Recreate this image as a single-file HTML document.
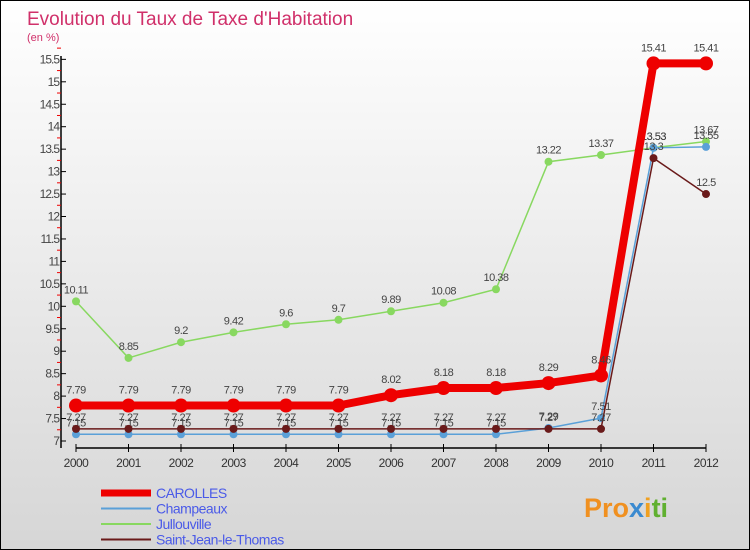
<!DOCTYPE html>
<html><head><meta charset="utf-8"><style>
body{margin:0;width:750px;height:550px;overflow:hidden;font-family:"Liberation Sans",sans-serif}
#wrap{position:relative;width:748px;height:548px;border:1px solid #000;background:linear-gradient(#fff,#d6d6d6)}
</style></head><body>
<div id="wrap">
<svg id="chart" width="748" height="548" style="position:absolute;left:0;top:0">
<text x="26" y="24" font-size="19" fill="#d0306a">Evolution du Taux de Taxe d'Habitation</text>
<text x="26" y="40" font-size="11" fill="#d0306a">(en %)</text>
<g id="axes"></g><g id="series"></g><g id="legend"></g>
<text x="583" y="516" font-size="27" font-weight="bold" fill="#f09020">Pro<tspan fill="#3a8ad0">x</tspan><tspan fill="#f0a020">i</tspan><tspan fill="#60b030">ti</tspan></text>
</svg>
</div>
<script>
const years=[2000,2001,2002,2003,2004,2005,2006,2007,2008,2009,2010,2011,2012];
const yTicks=[7,7.5,8,8.5,9,9.5,10,10.5,11,11.5,12,12.5,13,13.5,14,14.5,15,15.5];
const carolles=[7.79,7.79,7.79,7.79,7.79,7.79,8.02,8.18,8.18,8.29,8.46,15.41,15.41];
const champeaux=[7.15,7.15,7.15,7.15,7.15,7.15,7.15,7.15,7.15,7.29,7.51,13.53,13.55];
const jullouville=[10.11,8.85,9.2,9.42,9.6,9.7,9.89,10.08,10.38,13.22,13.37,13.53,13.67];
const stjean=[7.27,7.27,7.27,7.27,7.27,7.27,7.27,7.27,7.27,7.27,7.27,13.3,12.5];
const seriesNames=["CAROLLES","Champeaux","Jullouville","Saint-Jean-le-Thomas"];
const NS="http://www.w3.org/2000/svg";
const X=i=>75+i*52.5;
const Y=v=>440-(v-7)*44.9;
function mk(tag,attrs,parent,text){const e=document.createElementNS(NS,tag);for(const k in attrs)e.setAttribute(k,attrs[k]);if(text!==undefined)e.textContent=text;parent.appendChild(e);return e;}
const ax=document.getElementById('axes');
let e;
e=mk('line',{x1:60,x2:60,y1:55,y2:447,stroke:'#000','stroke-width':1.5},ax);


e=mk('line',{x1:75,x2:705,y1:447,y2:447,stroke:'#000','stroke-width':1.5},ax);


yTicks.forEach(t=>{
 mk('line',{x1:60,x2:65,y1:Y(t),y2:Y(t),stroke:'#000'},ax);
 mk('line',{x1:56,x2:60,y1:Y(t+0.25),y2:Y(t+0.25),stroke:'#e00'},ax);
 e=mk('text',{x:58,y:Y(t)+4,'font-size':12,'text-anchor':'end',fill:'#444','letter-spacing':'-1'},ax,String(t));
 
 
});
years.forEach((y,i)=>{
 mk('line',{x1:X(i),x2:X(i),y1:443,y2:451,stroke:'#000'},ax);
 e=mk('text',{x:X(i),y:466,'font-size':12,'text-anchor':'middle',fill:'#333','letter-spacing':'-0.5'},ax,String(y));
 
 
});
const sg=document.getElementById('series');
function draw(vals,color,w,r,name,dy){
 const g=mk('g',{},sg);
 
 
 e=mk('polyline',{points:vals.map((v,i)=>X(i)+','+Y(v)).join(' '),fill:'none',stroke:color,'stroke-width':w},g);
 
 
 vals.forEach((v,i)=>{
  e=mk('circle',{cx:X(i),cy:Y(v),r:r,fill:color},g);
  
  
  e=mk('text',{x:X(i),y:Y(v)-dy,'font-size':11,'text-anchor':'middle',fill:'#444','letter-spacing':'-0.5'},g,String(v));
  
  
 });
}
draw(jullouville,'#88d860',1.5,4,'jullouville',8);
draw(champeaux,'#5aa0d8',1.5,4,'champeaux',8);
draw(stjean,'#6a1a1a',1.5,4,'saint-jean',8);
draw(carolles,'#ee0000',8,7,'carolles',12);
const lg=document.getElementById('legend');
const lcols=['#ee0000','#5aa0d8','#88d860','#6a1a1a'],lw=[7,2,2,2];
seriesNames.forEach((n,i)=>{
 const yy=492+i*15.5;
 const g=mk('g',{},lg);
 
 
 mk('line',{x1:100,x2:150,y1:yy,y2:yy,stroke:lcols[i],'stroke-width':lw[i]},g);
 mk('text',{x:155,y:yy+5,'font-size':14,fill:'#4a5ae8','letter-spacing':'-0.5'},g,n);
});
</script>
</body></html>
